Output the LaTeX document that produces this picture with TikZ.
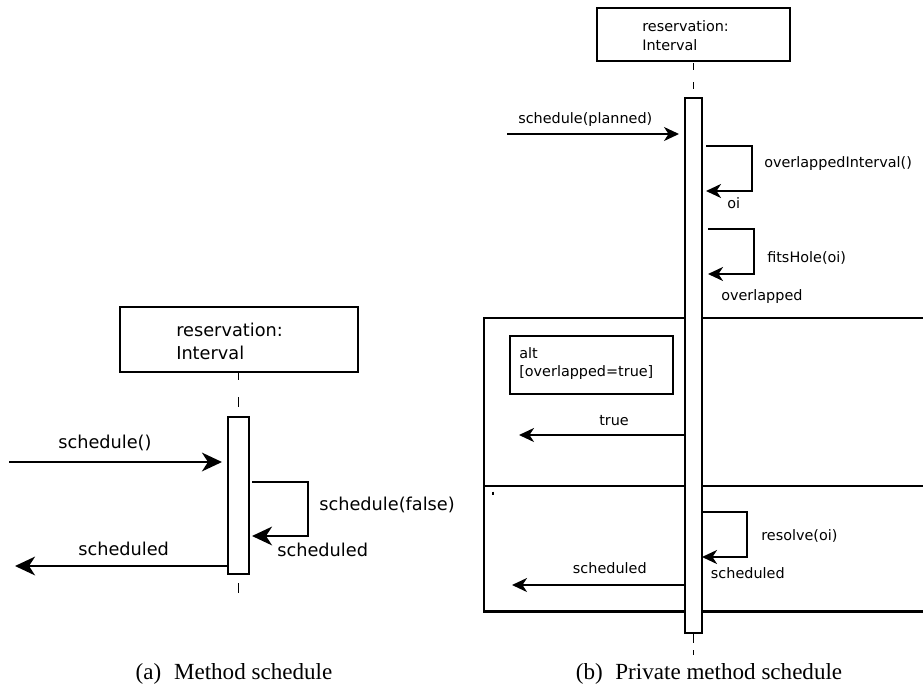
\documentclass[tikz,border=0pt]{standalone}
\usepackage{fontspec}
\setmainfont{Liberation Serif}
\newfontfamily\diagfont{DejaVu Sans}
\usetikzlibrary{arrows.meta,fit}

\begin{document}
\begin{tikzpicture}[x=0.75pt,y=-0.75pt,
  % (a) is drawn larger than (b)
  boxA/.style={draw,line width=1.9pt,inner sep=0pt,fill=white},
  boxB/.style={draw,line width=1.5pt,inner sep=0pt,fill=white},
  msgA/.style={line width=1.9pt,line join=miter,
    -{Stealth[length=15pt,width=14pt,inset=4.5pt]}},
  msgB/.style={line width=1.5pt,line join=miter,
    -{Stealth[length=11.25pt,width=10.5pt,inset=3.4pt]}},
  lifeline/.style={line width=0.8pt},
  frame/.style={line width=1.8pt},
  txtA/.style={anchor=base west,inner sep=0pt,font=\diagfont\fontsize{13.3}{16}\selectfont},
  txtB/.style={anchor=base west,inner sep=0pt,font=\diagfont\fontsize{10.8}{13}\selectfont},
  caption/.style={anchor=base,inner sep=0pt,font=\fontsize{17.3}{21}\selectfont}]
\useasboundingbox (0,0) rectangle (923,696);

% ---------------- (a) Method schedule ----------------
\node[boxA,fit={(120,307)(358,372)}] (objA) {};
\node[txtA] (objAname) at (176,336) {reservation:};
\node[txtA] (objAtype) at (176,359) {Interval};

\coordinate (llA1) at (238.5,373);
\coordinate (llA2) at (238.5,380);
\coordinate (llA3) at (238.5,397);
\coordinate (llA4) at (238.5,407);
\coordinate (llA5) at (238.5,583);
\coordinate (llA6) at (238.5,593);
\draw[lifeline] (llA1) -- (llA2) (llA3) -- (llA4) (llA5) -- (llA6);

\node[boxA,fit={(228,417)(249,574)}] (actA) {};

\coordinate (inA) at (9,462);
\coordinate (inAend) at (222,462);
\draw[msgA] (inA) -- (inAend);
\node[txtA] (lblInA) at (58,448) {schedule()};

\coordinate (selfA1) at (252,482);
\coordinate (selfA2) at (308,482);
\coordinate (selfA3) at (308,536);
\coordinate (selfA4) at (252,536);
\draw[msgA] (selfA1) -- (selfA2) -- (selfA3) -- (selfA4);
\node[txtA] (lblSelfA) at (319,510.5) {schedule(false)};
\node[txtA] (lblSelfAret) at (277,556) {scheduled};

\coordinate (retA) at (228,566);
\coordinate (retAend) at (15,566);
\draw[msgA] (retA) -- (retAend);
\node[txtA] (lblRetA) at (78,555.5) {scheduled};

\node[caption] (capA) at (234,679) {(a)\hspace{0.55em}Method schedule};

% ---------------- (b) Private method schedule ----------------
% alt combined fragment
\coordinate (frTL) at (484,318);
\coordinate (frTR) at (923,318);
\coordinate (frML) at (484,486);
\coordinate (frMR) at (923,486);
\coordinate (frBL) at (484,611.5);
\coordinate (frBR) at (923,611.5);
\draw[frame] (frTR) -- (frTL) -- (frBL) -- (frBR);
\draw[frame] (frML) -- (frMR);
\node[boxB,fit={(510,336)(672.5,393.5)}] (altBox) {};
\node[txtB] (altKw) at (519,358.3) {alt};
\node[txtB] (altGuard) at (519,376.7) {[overlapped=true]};
\coordinate (tickA) at (493,491.5);
\coordinate (tickB) at (493,494.5);
\draw[line width=0.8pt] (tickA) -- (tickB);

\node[boxB,fit={(597,8)(790,61)}] (objB) {};
\node[txtB] (objBname) at (642,31.7) {reservation:};
\node[txtB] (objBtype) at (642,50.7) {Interval};

\coordinate (llB1) at (693.3,63);
\coordinate (llB2) at (693.3,70);
\coordinate (llB3) at (693.3,82);
\coordinate (llB4) at (693.3,89);
\coordinate (llB5) at (693.3,633);
\coordinate (llB6) at (693.3,643);
\coordinate (llB7) at (693.3,650);
\coordinate (llB8) at (693.3,655);
\draw[lifeline] (llB1) -- (llB2) (llB3) -- (llB4) (llB5) -- (llB6) (llB7) -- (llB8);

\node[boxB,fit={(685,98)(702,633)}] (actB) {};

\coordinate (inB) at (507,134);
\coordinate (inBend) at (679,134);
\draw[msgB] (inB) -- (inBend);
\node[txtB] (lblInB) at (518,123) {schedule(planned)};

\coordinate (selfB1) at (706,146);
\coordinate (selfB2) at (752,146);
\coordinate (selfB3) at (752,191);
\coordinate (selfB4) at (706,191);
\draw[msgB] (selfB1) -- (selfB2) -- (selfB3) -- (selfB4);
\node[txtB] (lblSelfB1) at (764,167.3) {overlappedInterval()};
\node[txtB] (lblSelfB1ret) at (727,208.3) {oi};

\coordinate (selfC1) at (708,229);
\coordinate (selfC2) at (754,229);
\coordinate (selfC3) at (754,274);
\coordinate (selfC4) at (708,274);
\draw[msgB] (selfC1) -- (selfC2) -- (selfC3) -- (selfC4);
\node[txtB] (lblSelfC) at (767,262.3) {fitsHole(oi)};
\node[txtB] (lblSelfCret) at (721,300) {overlapped};

\coordinate (trueB) at (684,435);
\coordinate (trueBend) at (519,435);
\draw[msgB] (trueB) -- (trueBend);
\node[txtB] (lblTrue) at (599,425) {true};

\coordinate (selfD1) at (702,512);
\coordinate (selfD2) at (747,512);
\coordinate (selfD3) at (747,557);
\coordinate (selfD4) at (702,557);
\draw[msgB] (selfD1) -- (selfD2) -- (selfD3) -- (selfD4);
\node[txtB] (lblSelfD) at (761,540.7) {resolve(oi)};
\node[txtB] (lblSelfDret) at (710.7,578.3) {scheduled};

\coordinate (retB) at (684,585);
\coordinate (retBend) at (512,585);
\draw[msgB] (retB) -- (retBend);
\node[txtB] (lblRetB) at (572.7,573.3) {scheduled};

\node[caption] (capB) at (709,679) {(b)\hspace{0.55em}Private method schedule};
\end{tikzpicture}
\end{document}
